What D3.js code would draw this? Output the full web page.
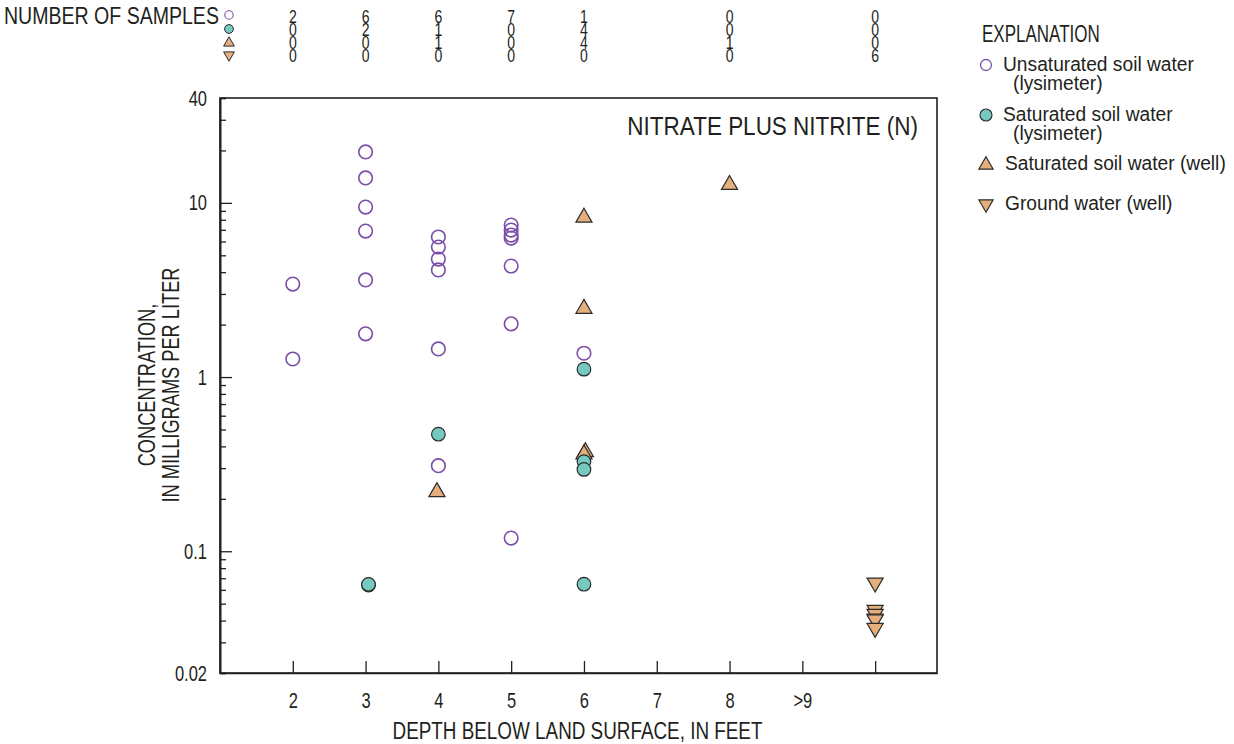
<!DOCTYPE html>
<html>
<head>
<meta charset="utf-8">
<script src="https://cdn.jsdelivr.net/npm/d3@7"></script>
<style>
  html, body { margin: 0; padding: 0; background: #fff; }
  svg { display: block; }
  text { font-family: "Liberation Sans", Arial, Helvetica, sans-serif; fill: #231f20; }
</style>
</head>
<body>
<svg id="chart" width="1234" height="744"></svg>
<script>
// ---------------- DATA ----------------
const depthTicks = [2, 3, 4, 5, 6, 7, 8, 9, 10];
const depthTickLabels = ["2", "3", "4", "5", "6", "7", "8", ">9", ""];
const concMajorTicks = [0.02, 0.1, 1, 10, 40];
const concMajorLabels = ["0.02", "0.1", "1", "10", "40"];
const concMinorTicks = [0.03, 0.04, 0.05, 0.06, 0.07, 0.08, 0.09,
  0.2, 0.3, 0.4, 0.5, 0.6, 0.7, 0.8, 0.9,
  2, 3, 4, 5, 6, 7, 8, 9, 20, 30];

// number of samples table
const countDepths = [2, 3, 4, 5, 6, 8, 10];
const countsUnsatLys = [2, 6, 6, 7, 1, 0, 0];
const countsSatLys = [0, 2, 1, 0, 4, 0, 0];
const countsSatWell = [0, 0, 1, 0, 4, 1, 0];
const countsGround = [0, 0, 0, 0, 0, 0, 6];

// Unsaturated soil water (lysimeter)
const unsatLysDepth = [2, 2, 3, 3, 3, 3, 3, 3, 4, 4, 4, 4, 4, 4, 5, 5, 5, 5, 5, 5, 5, 6];
const unsatLysConc = [3.42, 1.27, 19.6, 13.9, 9.46, 6.89, 3.61, 1.77,
  6.37, 5.58, 4.76, 4.12, 1.45, 0.31,
  7.46, 6.98, 6.53, 6.28, 4.34, 2.02, 0.119, 1.37];

// Saturated soil water (lysimeter)
const satLysDepth = [3.04, 3.04, 4, 6, 6, 6, 6];
const satLysConc = [0.064, 0.0645, 0.47, 1.11, 0.327, 0.295, 0.0647];

// Saturated soil water (well)
const satWellDepth = [3.98, 6, 6, 6.02, 6, 8];
const satWellConc = [0.219, 8.24, 2.47, 0.371, 0.36, 12.7];

// Ground water (well)
const groundDepth = [10, 10, 10, 10, 10, 10];
const groundConc = [0.066, 0.046, 0.0436, 0.041, 0.0405, 0.0362];

// ---------------- STYLE ----------------
const purple = "#7b4fa8";
const teal = "#76c9c1";
const tan = "#e4ae7d";
const dark = "#2b2b2b";
const ink = "#231f20";
const FONT = "'Liberation Sans', Arial, Helvetica, sans-serif";

const svg = d3.select("#chart");
const plotLeft = 220, plotRight = 937, plotTop = 98, plotBottom = 673;

const x = d3.scaleLinear().domain([1, 10.85]).range([plotLeft, plotRight]);
const y = d3.scaleLog().domain([0.02, 40]).range([plotBottom, plotTop]);

// condensed text helper (horizontal compression of a real text element)
function ctext(parent, tx, ty, str, size, sx, anchor = "start") {
  return parent.append("text")
    .attr("transform", `translate(${tx},${ty}) scale(${sx},1)`)
    .attr("text-anchor", anchor).attr("font-size", size)
    .attr("font-family", FONT).attr("fill", ink)
    .text(str);
}

// ---------------- FRAME & AXES ----------------
svg.append("rect")
  .attr("x", plotLeft).attr("y", plotTop)
  .attr("width", plotRight - plotLeft).attr("height", plotBottom - plotTop)
  .attr("fill", "none").attr("stroke", ink).attr("stroke-width", 1.6);

const yMinor = svg.append("g").attr("transform", `translate(${plotLeft},0)`)
  .call(d3.axisLeft(y).tickValues(concMinorTicks).tickSize(-6).tickFormat(""));
const yMajor = svg.append("g").attr("transform", `translate(${plotLeft},0)`)
  .call(d3.axisLeft(y).tickValues(concMajorTicks)
    .tickSizeInner(-12).tickSizeOuter(0).tickPadding(13)
    .tickFormat((d, i) => concMajorLabels[i]));
yMajor.selectAll(".tick").filter(d => d === 40 || d === 0.02).select("line").attr("x2", 6);
[yMinor, yMajor].forEach(g => {
  g.select(".domain").attr("stroke", ink).attr("stroke-width", 1.6);
  g.selectAll("line").attr("stroke", ink).attr("stroke-width", 1.3);
});
yMajor.selectAll("text").each(function () {
  const t = d3.select(this);
  const tx0 = +t.attr("x");
  t.attr("x", null).attr("transform", `translate(${tx0},0) scale(0.75,1)`)
    .attr("font-size", 22).attr("font-family", FONT).attr("fill", ink);
});

const xAxis = svg.append("g").attr("transform", `translate(0,${plotBottom})`)
  .call(d3.axisBottom(x).tickValues(depthTicks)
    .tickSizeInner(-12).tickSizeOuter(0).tickPadding(19)
    .tickFormat((d, i) => depthTickLabels[i]));
xAxis.select(".domain").attr("stroke", ink).attr("stroke-width", 1.6);
xAxis.selectAll("line").attr("stroke", ink).attr("stroke-width", 1.3);
xAxis.selectAll("text").each(function () {
  const t = d3.select(this);
  const ty0 = +t.attr("y");
  t.attr("y", null).attr("transform", `translate(0,${ty0}) scale(0.75,1)`)
    .attr("font-size", 22).attr("font-family", FONT).attr("fill", ink);
});

// axis titles
ctext(svg, (plotLeft + plotRight) / 2 - 1, 739, "DEPTH BELOW LAND SURFACE, IN FEET", 24.5, 0.77, "middle");
const yl = svg.append("text")
  .attr("transform", `translate(155,385) rotate(-90) scale(0.76,1)`)
  .attr("text-anchor", "middle").attr("font-size", 24)
  .attr("font-family", FONT).attr("fill", ink);
yl.append("tspan").attr("x", 0).attr("dy", 0).text("CONCENTRATION,");
yl.append("tspan").attr("x", 0).attr("dy", 24).text("IN MILLIGRAMS PER LITER");

// chart title inside
ctext(svg, 918, 135, "NITRATE PLUS NITRITE (N)", 25, 0.9, "end");

// ---------------- SYMBOLS ----------------
const triUp = d3.symbol().type(d3.symbolTriangle).size(112);
const triSmall = d3.symbol().type(d3.symbolTriangle).size(50);

function drawCircles(depths, concs, fill, stroke, sw) {
  svg.append("g").selectAll("circle")
    .data(depths.map((d, i) => ({ d, c: concs[i] })))
    .join("circle")
    .attr("cx", p => x(p.d)).attr("cy", p => y(p.c)).attr("r", 6.8)
    .attr("fill", fill).attr("stroke", stroke).attr("stroke-width", sw);
}
function drawTris(depths, concs, down) {
  svg.append("g").selectAll("path")
    .data(depths.map((d, i) => ({ d, c: concs[i] })))
    .join("path")
    .attr("d", triUp)
    .attr("transform", p => `translate(${x(p.d)},${y(p.c)})${down ? " rotate(180)" : ""}`)
    .attr("fill", tan).attr("stroke", dark).attr("stroke-width", 1.2);
}

drawCircles(unsatLysDepth, unsatLysConc, "none", purple, 1.6);
drawTris(satWellDepth, satWellConc, false);
drawCircles(satLysDepth, satLysConc, teal, dark, 1.2);
drawTris(groundDepth, groundConc, true);

// ---------------- NUMBER OF SAMPLES TABLE ----------------
ctext(svg, 4, 24, "NUMBER OF SAMPLES", 23, 0.85);
const rowY = [17, 30, 43, 56];
const rows = [countsUnsatLys, countsSatLys, countsSatWell, countsGround];
const symX = 229;
svg.append("circle").attr("cx", symX).attr("cy", rowY[0] - 2).attr("r", 4.2)
  .attr("fill", "none").attr("stroke", purple).attr("stroke-width", 1.1);
svg.append("circle").attr("cx", symX).attr("cy", rowY[1] - 1).attr("r", 4.4)
  .attr("fill", teal).attr("stroke", dark).attr("stroke-width", 1);
svg.append("path").attr("d", triSmall).attr("transform", `translate(${symX},${rowY[2]})`)
  .attr("fill", tan).attr("stroke", dark).attr("stroke-width", 1);
svg.append("path").attr("d", triSmall).attr("transform", `translate(${symX},${rowY[3] - 1}) rotate(180)`)
  .attr("fill", tan).attr("stroke", dark).attr("stroke-width", 1);

rows.forEach((vals, r) => {
  const g = svg.append("g");
  vals.forEach((v, i) => {
    ctext(g, x(countDepths[i]), rowY[r] + 6, String(v), 18, 0.78, "middle");
  });
});

// ---------------- LEGEND ----------------
ctext(svg, 982, 42, "EXPLANATION", 23, 0.74);
const lg = svg.append("g");
const lx = 986, tx = 1003;
const LF = 20, LS = 0.96;
lg.append("circle").attr("cx", lx).attr("cy", 65).attr("r", 5.5)
  .attr("fill", "none").attr("stroke", purple).attr("stroke-width", 1.3);
ctext(lg, tx, 71, "Unsaturated soil water", LF, LS);
ctext(lg, tx + 10, 90, "(lysimeter)", LF, LS);
lg.append("circle").attr("cx", lx).attr("cy", 115).attr("r", 6)
  .attr("fill", teal).attr("stroke", dark).attr("stroke-width", 1.1);
ctext(lg, tx, 121, "Saturated soil water", LF, LS);
ctext(lg, tx + 10, 140, "(lysimeter)", LF, LS);
lg.append("path").attr("d", d3.symbol().type(d3.symbolTriangle).size(90))
  .attr("transform", `translate(${lx},${165})`)
  .attr("fill", tan).attr("stroke", dark).attr("stroke-width", 1.1);
ctext(lg, tx + 2, 170, "Saturated soil water (well)", LF, LS);
lg.append("path").attr("d", d3.symbol().type(d3.symbolTriangle).size(90))
  .attr("transform", `translate(${lx},${204}) rotate(180)`)
  .attr("fill", tan).attr("stroke", dark).attr("stroke-width", 1.1);
ctext(lg, tx + 2, 210, "Ground water (well)", LF, LS);
</script>
</body>
</html>
